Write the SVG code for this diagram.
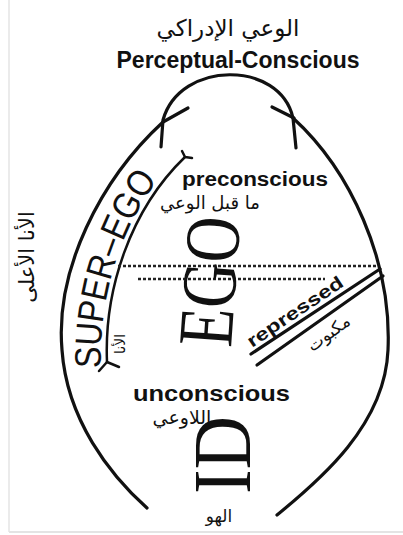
<svg xmlns="http://www.w3.org/2000/svg" width="403" height="535" viewBox="0 0 403 535">
<style>
.ln{fill:none;stroke:#111;stroke-width:3.2;stroke-linecap:round;stroke-linejoin:round}
.in{fill:none;stroke:#111;stroke-width:2.5;stroke-linecap:round}
.dot{stroke:#222;stroke-width:2.5;stroke-dasharray:3 2}
.ar{font-family:"DejaVu Sans",sans-serif;fill:#111}
.en{font-family:"Liberation Sans",Arial,sans-serif;font-weight:bold;fill:#111}
.big{font-family:"Liberation Serif","Times New Roman",serif;fill:#111}
</style>
<defs>
<path id="sePath" d="M 101,370 C 98,292 125,207 182,153"/>
</defs>
<rect width="403" height="535" fill="#fff"/>
<line x1="9" y1="0" x2="9" y2="532" stroke="#e4e4e4" stroke-width="1.5"/>
<line x1="9" y1="532" x2="403" y2="532" stroke="#e4e4e4" stroke-width="2"/>
<g id="connectors">
<path id="dome" class="ln" d="M 161,147 L 163,120 C 180,60 280,60 293,118 L 296,148"/>
<path class="ln" d="M 163,122 L 188,108"/>
<path class="ln" d="M 294,118 L 272,107"/>
<path id="egg-left" class="ln" d="M 163,122 C 100,180 55,270 62,350 C 67,420 110,475 147,508"/>
<path id="egg-right" class="ln" d="M 293,118 C 350,170 392,260 388,350 C 385,425 320,480 277,515"/>
<path id="superego-line" class="in" d="M 107,362 C 104,290 130,210 185,157"/>
<path class="in" d="M 185,157 L 182,151 M 185,157 L 192,158"/>
<path class="in" d="M 107,362 L 99,371 M 107,362 L 119,367"/>
<line class="dot" x1="118" y1="266" x2="378" y2="266"/>
<line class="dot" x1="138" y1="279" x2="325" y2="279"/>
<line class="ln" x1="380" y1="269" x2="251" y2="354" stroke-width="2.5"/>
<line class="ln" x1="383" y1="276" x2="257" y2="365" stroke-width="2.5"/>
</g>
<g id="perceptual-conscious">
<text class="ar" x="228" y="36" font-size="23" text-anchor="middle">الوعي الإدراكي</text>
<text class="en" x="238" y="68" font-size="23" text-anchor="middle" font-weight="600" textLength="243" lengthAdjust="spacingAndGlyphs">Perceptual-Conscious</text>
</g>
<g id="preconscious">
<text class="en" x="182" y="186" font-size="20" textLength="146" lengthAdjust="spacingAndGlyphs">preconscious</text>
<text class="ar" x="210" y="209" font-size="18" text-anchor="middle">ما قبل الوعي</text>
</g>
<g id="super-ego">
<text font-family="Liberation Sans,Arial,sans-serif" font-size="37" fill="#111"><textPath href="#sePath" startOffset="2" textLength="200" lengthAdjust="spacingAndGlyphs">SUPER–EGO</textPath></text>
<text class="ar" transform="translate(34,257) rotate(-90)" font-size="21" text-anchor="middle">الأنا الأعلى</text>
<text class="ar" transform="translate(125,344) rotate(-90)" font-size="14" text-anchor="middle">الأنا</text>
</g>
<g id="ego">
<text class="big" transform="translate(231,348) rotate(-86)" font-size="78" textLength="130" lengthAdjust="spacingAndGlyphs">EGO</text>
</g>
<g id="repressed">
<text class="en" transform="translate(252,348) rotate(-34)" font-size="18" textLength="112" lengthAdjust="spacingAndGlyphs">repressed</text>
<text class="ar" transform="translate(332,338) rotate(-36)" font-size="17" text-anchor="middle">مكبوت</text>
</g>
<g id="unconscious">
<text class="en" x="133" y="401" font-size="22" textLength="157" lengthAdjust="spacingAndGlyphs">unconscious</text>
<text class="ar" x="182" y="424" font-size="19" text-anchor="middle">اللاوعي</text>
</g>
<g id="id">
<text class="big" transform="translate(250,494) rotate(-90)" font-size="82" textLength="78" lengthAdjust="spacingAndGlyphs">ID</text>
<text class="ar" x="219" y="522" font-size="17" text-anchor="middle">الهو</text>
</g>
</svg>
